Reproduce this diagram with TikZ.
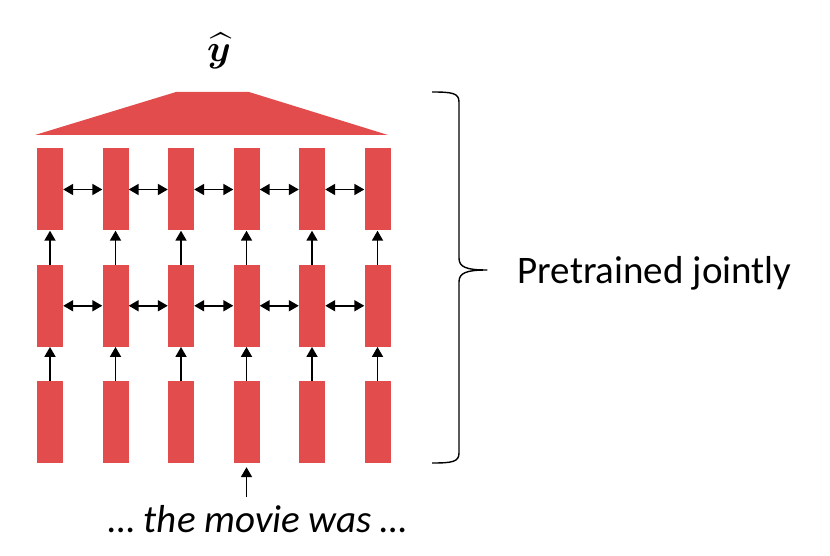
\documentclass[tikz,border=0pt]{standalone}
\usepackage{amsmath}
\usepackage{bm}
\usepackage{fontspec}
\setmainfont{Carlito}
\usetikzlibrary{arrows.meta}
\definecolor{cellred}{RGB}{227,76,77}
\tikzset{
  col step/.store in=\ColStep,
  row step/.store in=\RowStep,
  col step=65.5,
  row step=116.25,
  cell/.style={fill=cellred, minimum width=26pt, minimum height=82pt, inner sep=0pt},
  link/.style={-{Triangle[length=10pt,width=11pt]}, line width=1.8pt},
  both link/.style={{Triangle[length=10pt,width=11pt]}-{Triangle[length=10pt,width=11pt]}, line width=1.8pt}
}

\begin{document}
\begin{tikzpicture}[x=1pt, y=-1pt, line join=round]

  \useasboundingbox (0,0) rectangle (830,556);

  % ---- cells: row 1 = bottom, row 3 = top ----
  \foreach \r in {1,2,3} {
    \foreach \c in {1,...,6} {
      \node[cell] (cell-\r-\c) at ({50+(\c-1)*\ColStep},{422-(\r-1)*\RowStep}) {};
    }
  }

  % vertical links
  \foreach \r [evaluate=\r as \rr using int(\r+1)] in {1,2} {
    \foreach \c in {1,...,6} {
      \draw[link] (cell-\r-\c.north) -- (cell-\rr-\c.south);
    }
  }

  % horizontal links in the upper two rows
  \foreach \r in {2,3} {
    \foreach \c [evaluate=\c as \cc using int(\c+1)] in {1,...,5} {
      \draw[both link] (cell-\r-\c.east) -- (cell-\r-\cc.west);
    }
  }

  % output head
  \coordinate (headBL) at (35,135);
  \coordinate (headTL) at (176,92);
  \coordinate (headTR) at (249,92);
  \coordinate (headBR) at (388,135);
  \fill[cellred] (headBL) -- (headTL) -- (headTR) -- (headBR) -- cycle;
  \node[scale=3.8, inner sep=0pt] (yhat) at (219,51) {$\widehat{\bm{y}}$};

  % input words
  \node (sentence) at (258,519) {\fontsize{39}{46}\selectfont\itshape … the movie was …};
  \coordinate (inTail) at (246.5,497);
  \draw[link, shorten >=4pt] (inTail) -- (cell-1-4.south);

  % brace
  \coordinate (braceTip) at (487,270);
  \draw[line width=1.4pt]
    (432,92) .. controls (452,92) and (459,93) .. (459,102)
    -- (459,258) .. controls (459,267) and (466,270) .. (braceTip)
    .. controls (466,270) and (459,273) .. (459,282)
    -- (459,453) .. controls (459,462) and (452,463) .. (432,463);
  \node[anchor=west] (pretrained) at (514,273) {\fontsize{39}{46}\selectfont Pretrained jointly};

\end{tikzpicture}
\end{document}
